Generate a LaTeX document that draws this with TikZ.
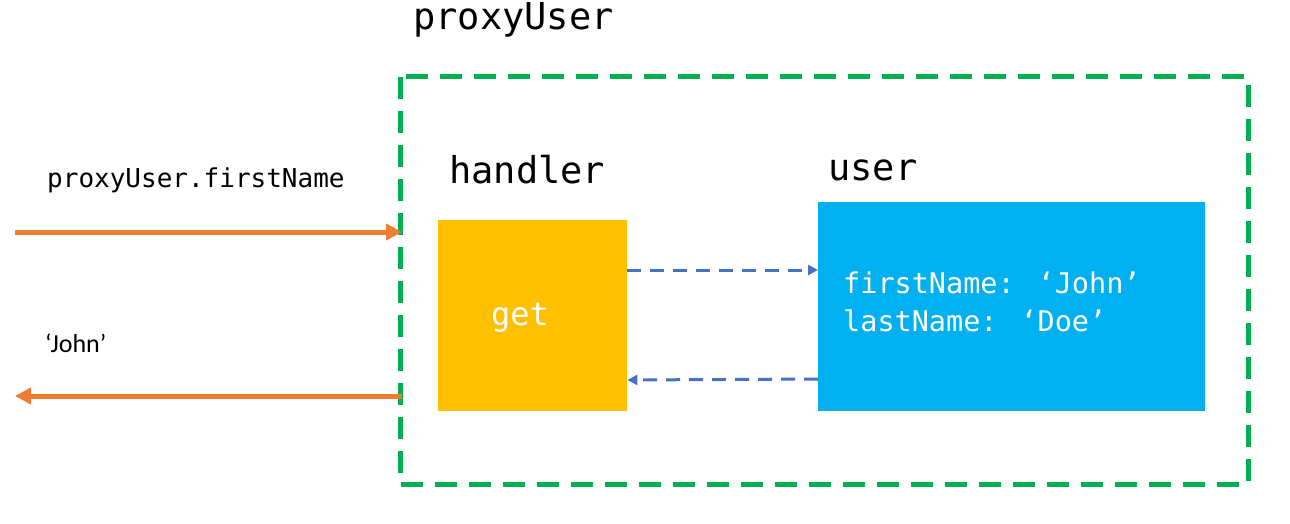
\documentclass[tikz,border=0pt]{standalone}
\usepackage{fontspec}
\setmainfont{Carlito}
\newfontfamily\mono{DejaVu Sans Mono}
\usetikzlibrary{arrows.meta}
\definecolor{grn}{HTML}{00B050}
\definecolor{org}{HTML}{ED7D31}
\definecolor{blu}{HTML}{4472C4}
\definecolor{yel}{HTML}{FFC000}
\definecolor{cyn}{HTML}{00B0F0}
\begin{document}
\begin{tikzpicture}[x=1pt,y=-1pt,
  title/.style={font=\mono\fontsize{37}{40}\selectfont,anchor=west,inner sep=0},
  oarrow/.style={org,line width=5pt,-{Triangle[length=16pt,width=16pt]}},
  barrow/.style={blu,line width=3pt,dash pattern=on 14pt off 9pt,-{Triangle[length=10pt,width=10pt]}}]
\useasboundingbox (0,0) rectangle (1290,524);
\draw[grn,line width=5pt,dash pattern=on 22pt off 12pt] (400,77) rectangle (1248,484);
\node[title] (pt) at (413,20) {proxyUser};
\node[title] (ht) at (449,170) {handler};
\node[title] (ut) at (828,170) {user};
\node[fill=yel,minimum width=189pt,minimum height=191pt,anchor=north west,inner sep=0] (get) at (438,220) {};
\node[font=\mono\fontsize{32}{36}\selectfont,text=white] (gt) at (520,318) {get};
\node[fill=cyn,minimum width=387pt,minimum height=209pt,anchor=north west,inner sep=0] (usr) at (818,202) {};
\node[font=\mono\fontsize{28.5}{38}\selectfont,text=white,anchor=north west,align=left,inner sep=0] (ut2) at (843,272) {firstName: ‘John’\\lastName: ‘Doe’};
\coordinate (a1) at (15,232); \coordinate (a2) at (402,232);
\coordinate (b1) at (402,396); \coordinate (b2) at (15,396);
\draw[oarrow] (a1) -- (a2);
\draw[oarrow] (b1) -- (b2);
\node[font=\mono\fontsize{26}{30}\selectfont,anchor=west,inner sep=0] (pf) at (47,180) {proxyUser.firstName};
\node[font=\fontsize{26}{30}\selectfont,anchor=west,inner sep=0] (jn) at (45,343) {‘John’};
\draw[barrow] (get.east|-0,270) -- (usr.west|-0,270);
\draw[barrow] (usr.west|-0,379) -- (get.east|-0,380);
\end{tikzpicture}
\end{document}
